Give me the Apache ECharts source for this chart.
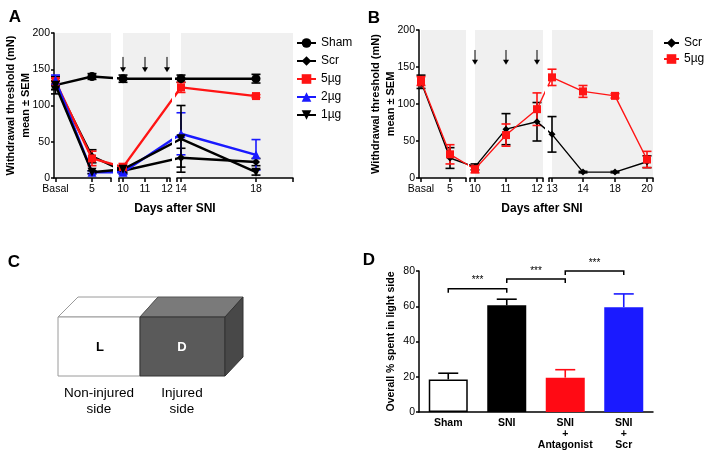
<!DOCTYPE html>
<html><head><meta charset="utf-8">
<script src="https://cdn.jsdelivr.net/npm/echarts@6/dist/echarts.min.js"></script>
<style>html,body{margin:0;padding:0;background:#fff}#c{width:704px;height:457px}</style>
</head><body><div id="c"></div>
<script>
// ================= DATA =================
// Panel A: withdrawal threshold (mN), mean and SEM
const A_DAYS = ['Basal','5','10','14','18'];
const A_SHAM = [128,140,137,137,137];
const A_SHAM_SEM = [12,4,5,5,6];
const A_SCR = [130,30,10,28,22];
const A_SCR_SEM = [8,9,4,13,5];
const A_5UG = [133,27,15,125,113];
const A_5UG_SEM = [5,10,5,7,2];
const A_2UG = [135,8,8,61,32];
const A_2UG_SEM = [7,2,3,29,21];
const A_1UG = [128,8,12,54,8];
const A_1UG_SEM = [6,2,4,46,4];
const A_INJECTIONS = ['10','11','12'];

// Panel B
const B_DAYS = ['Basal','5','10','11','12','13','14','18','20'];
const B_SCR = [130,27,15,66,76,59,8,8,22];
const B_SCR_SEM = [9,14,4,21,26,24,1,1,8];
const B_5UG = [131,32,12,58,93,136,117,111,25];
const B_5UG_SEM = [6,13,5,15,22,11,8,3,11];
const B_INJECTIONS = ['10','11','12'];

// Panel D: overall % time spent in light side
const D_GROUPS = ['Sham','SNI','SNI\n+\nAntagonist','SNI\n+\nScr'];
const D_MEAN = [18.5,60.5,19.5,59.5];
const D_SEM = [3.5,3.5,4.5,7.5];
const D_SIG = [[0,1,70],[1,2,75.5],[2,3,80]];

// Tick labels of the broken x axes and their places along each axis
const A_TICK_LABELS = ['Basal','5','10','11','12','14','18'];
const A_TICK_POS = [1.5,38,69,91,113,127,202];
const A_SEGMENTS = [[0,57],[65,116],[123,239]];
const B_TICK_LABELS = ['Basal','5','10','11','12','13','14','18','20'];
const B_TICK_POS = [2,31,56,87,118,133,164,196,228];
const B_SEGMENTS = [[0,47],[51,124],[130,234]];

// ================= STYLE =================
const FONT = 'Liberation Sans, Arial, Helvetica, sans-serif';
const RED = '#ff1414', BLUE = '#1a1aff', BLACK = '#000';
const D_COLORS = ['#ffffff','#000000','#ff0a14','#1a1aff'];

const PANEL_A = {
  x0:54, top:33, height:145, lw:2.4, elw:1.6, cap:9,
  tickLabels:A_TICK_LABELS, tickPos:A_TICK_POS, segs:A_SEGMENTS, days:A_DAYS,
  arrow:[167,146], injections:A_INJECTIONS,
  series:[
    {name:'Sham', vals:A_SHAM, sem:A_SHAM_SEM, color:BLACK, symbol:'circle', size:9},
    {name:'Scr', vals:A_SCR, sem:A_SCR_SEM, color:BLACK, symbol:'diamond', size:8},
    {name:'5µg', vals:A_5UG, sem:A_5UG_SEM, color:RED, symbol:'rect', size:8},
    {name:'2µg', vals:A_2UG, sem:A_2UG_SEM, color:BLUE, symbol:'triangle', size:9},
    {name:'1µg', vals:A_1UG, sem:A_1UG_SEM, color:BLACK, symbol:'triangle', size:9, rotate:180}
  ]
};
const PANEL_B = {
  x0:419, top:30, height:148, lw:1.4, elw:1.6, cap:9,
  tickLabels:B_TICK_LABELS, tickPos:B_TICK_POS, segs:B_SEGMENTS, days:B_DAYS,
  arrow:[173,153], injections:B_INJECTIONS,
  series:[
    {name:'Scr_B', vals:B_SCR, sem:B_SCR_SEM, color:BLACK, symbol:'diamond', size:7},
    {name:'5µg_B', vals:B_5UG, sem:B_5UG_SEM, color:RED, symbol:'rect', size:8}
  ]
};

const grids=[], xAxes=[], yAxes=[], series=[];
function posOf(P,label){ return P.tickPos[P.tickLabels.indexOf(label)]; }
function labelAt(P,v){ const i=P.tickPos.findIndex(p=>Math.abs(p-v)<0.01); return i>=0?P.tickLabels[i]:''; }

function errRender(color, cap, lw){
  return function(params, api){
    const x=api.value(0), y=api.value(1), e=api.value(2);
    const t=api.coord([x,y+e]), b=api.coord([x,y-e]);
    const st={stroke:color, lineWidth:lw};
    return {type:'group', children:[
      {type:'line', shape:{x1:t[0],y1:t[1],x2:b[0],y2:b[1]}, style:st},
      {type:'line', shape:{x1:t[0]-cap/2,y1:t[1],x2:t[0]+cap/2,y2:t[1]}, style:st},
      {type:'line', shape:{x1:b[0]-cap/2,y1:b[1],x2:b[0]+cap/2,y2:b[1]}, style:st}
    ]};
  };
}

function buildPanel(P){
  P.gridIdx=[];
  P.segs.forEach((seg,si)=>{
    const gi=grids.length; P.gridIdx.push(gi);
    grids.push({left:P.x0+seg[0], top:P.top, width:seg[1]-seg[0], height:P.height, outerBoundsMode:'none', containLabel:false});
    const tickVals=P.tickPos.filter(v=>v>=seg[0]&&v<=seg[1]);
    const marks=tickVals.concat(si>0?[seg[0]]:[]).concat([seg[1]]);
    xAxes.push({type:'value', gridIndex:gi, min:seg[0], max:seg[1],
      axisLine:{show:true,onZero:false,lineStyle:{color:'#000',width:1.5}},
      axisTick:{show:true,length:4,customValues:marks,lineStyle:{color:'#000',width:1.5}},
      axisLabel:{customValues:tickVals, formatter:v=>labelAt(P,v), fontSize:10.5, color:'#000', margin:6, fontFamily:FONT},
      splitLine:{show:false}});
    const y={type:'value', gridIndex:gi, min:0, max:200, interval:50, show:si===0,
      axisLine:{show:true,lineStyle:{color:'#000',width:1.5}},
      axisTick:{show:true,length:3,lineStyle:{color:'#000',width:1.5}},
      axisLabel:{fontSize:10.5,color:'#000',margin:4,fontFamily:FONT},
      splitLine:{show:false}};
    if(si===0){
      y.name='Withdrawal threshold (mN)\nmean ± SEM';
      y.nameLocation='middle'; y.nameRotate=90; y.nameGap=21; y.nameMoveOverlap=false;
      y.nameTextStyle={fontSize:11,fontWeight:'bold',color:'#000',lineHeight:15,fontFamily:FONT};
    }
    yAxes.push(y);
    // shaded band
    const bandStart=tickVals[0];
    series.push({type:'custom', xAxisIndex:gi, yAxisIndex:gi, z:0, silent:true, animation:false, clip:false,
      data:[[bandStart, seg[1]]],
      renderItem:(params,api)=>{
        const a=api.coord([api.value(0),200]), b=api.coord([api.value(1),0]);
        return {type:'rect', shape:{x:a[0],y:a[1],width:b[0]-a[0],height:b[1]-a[1]}, style:{fill:'#f0f0f0'}};
      }});
    // injection arrows
    if(si===1){
      series.push({type:'custom', xAxisIndex:gi, yAxisIndex:gi, z:2, silent:true, animation:false,
        data:P.injections.map(d=>[posOf(P,d)]),
        renderItem:(params,api)=>{
          const x=api.value(0);
          const t=api.coord([x,P.arrow[0]]), b=api.coord([x,P.arrow[1]]);
          return {type:'group', children:[
            {type:'line', shape:{x1:t[0],y1:t[1],x2:b[0],y2:b[1]-3}, style:{stroke:'#000',lineWidth:1}},
            {type:'polygon', shape:{points:[[b[0]-3,b[1]-5],[b[0]+3,b[1]-5],[b[0],b[1]]]}, style:{fill:'#000'}}
          ]};
        }});
    }
  });
  P.series.forEach(S=>{
    P.gridIdx.forEach((gi,si)=>{
      const seg=P.segs[si];
      const pts=P.days.map((d,i)=>[posOf(P,d),S.vals[i],S.sem[i]]);
      series.push({type:'line', name:S.name, xAxisIndex:gi, yAxisIndex:gi, clip:true,
        data:pts.map(p=>[p[0],p[1]]), symbol:S.symbol, symbolSize:S.size, symbolRotate:S.rotate||0,
        showAllSymbol:true, lineStyle:{color:S.color,width:P.lw}, itemStyle:{color:S.color},
        z:4, silent:true, animation:false, emphasis:{disabled:true}});
      series.push({type:'custom', xAxisIndex:gi, yAxisIndex:gi, z:3, silent:true, animation:false,
        data:pts.filter(p=>p[0]>=seg[0]&&p[0]<=seg[1]), renderItem:errRender(S.color,P.cap,P.elw)});
    });
  });
}
buildPanel(PANEL_A);
buildPanel(PANEL_B);

// ---- Panel D ----
const gD=grids.length;
grids.push({left:419, top:271, width:234, height:141, outerBoundsMode:'none', containLabel:false});
xAxes.push({type:'category', gridIndex:gD, data:D_GROUPS,
  axisLine:{show:true,lineStyle:{color:'#000',width:1.5}}, axisTick:{show:false},
  axisLabel:{fontSize:10.5,fontWeight:'bold',color:'#000',margin:6,lineHeight:11,fontFamily:FONT,interval:0}});
yAxes.push({type:'value', gridIndex:gD, min:0, max:80, interval:20,
  axisLine:{show:true,lineStyle:{color:'#000',width:1.5}},
  axisTick:{show:true,length:3,lineStyle:{color:'#000',width:1.5}},
  axisLabel:{fontSize:10.5,color:'#000',margin:4,fontFamily:FONT},
  splitLine:{show:false},
  name:'Overall % spent in light side', nameLocation:'middle', nameRotate:90, nameGap:22, nameMoveOverlap:false,
  nameTextStyle:{fontSize:10.5,fontWeight:'bold',color:'#000',fontFamily:FONT}});
series.push({type:'bar', xAxisIndex:gD, yAxisIndex:gD, barWidth:39, silent:true, animation:false, z:2,
  data:D_MEAN.map((v,i)=>({value:v,itemStyle:{color:D_COLORS[i],borderColor:'#000',borderWidth:i===0?1.5:0}}))});
series.push({type:'custom', xAxisIndex:gD, yAxisIndex:gD, z:1, silent:true, animation:false,
  data:D_MEAN.map((v,i)=>[i,v,D_SEM[i]]),
  renderItem:(params,api)=>{
    const i=api.value(0), v=api.value(1), e=api.value(2);
    const c=D_COLORS[i]==='#ffffff'?'#000':D_COLORS[i];
    const b=api.coord([i,v]), t=api.coord([i,v+e]);
    const st={stroke:c,lineWidth:1.6};
    return {type:'group',children:[
      {type:'line',shape:{x1:b[0],y1:b[1],x2:t[0],y2:t[1]},style:st},
      {type:'line',shape:{x1:t[0]-10,y1:t[1],x2:t[0]+10,y2:t[1]},style:st}
    ]};
  }});
series.push({type:'custom', xAxisIndex:gD, yAxisIndex:gD, z:3, silent:true, animation:false, clip:false,
  data:D_SIG,
  renderItem:(params,api)=>{
    const a=api.coord([api.value(0),api.value(2)]), b=api.coord([api.value(1),api.value(2)]);
    const st={stroke:'#000',lineWidth:1.5,fill:null};
    return {type:'group',children:[
      {type:'polyline',shape:{points:[[a[0],a[1]+4],[a[0],a[1]],[b[0],b[1]],[b[0],b[1]+4]]},style:st},
      {type:'text',style:{text:'***',x:(a[0]+b[0])/2,y:a[1]-3,textAlign:'center',textVerticalAlign:'bottom',fontSize:10,fontFamily:FONT,fill:'#000'}}
    ]};
  }});

// ================= GRAPHIC (labels, panel C drawing) =================
function txt(x,y,text,opt){
  return Object.assign({type:'text',x:x,y:y,silent:true,style:Object.assign({text:text,fill:'#000',font:'12px '+FONT,textAlign:'center',textVerticalAlign:'middle'},opt||{})});
}
const bold = s => 'bold '+s+'px '+FONT;
const graphic=[
  txt(15,17,'A',{font:bold(17)}), txt(374,18,'B',{font:bold(17)}),
  txt(14,262,'C',{font:bold(17)}), txt(369,260,'D',{font:bold(17)}),
  // panel A section labels
  txt(83,43,'SNI',{font:bold(9)}),
  txt(146,41,'i.t.',{font:bold(9)}), txt(146,51,'treatment',{font:bold(9)}),
  txt(240,40,'Post-',{font:bold(9)}), txt(240,51,'treatment',{font:bold(9)}),
  // panel B section labels
  txt(442,43,'SNI',{font:bold(9)}),
  txt(507,35,'i.t.',{font:bold(9)}), txt(507,47,'treatment',{font:bold(9)}),
  txt(606,37,'Post-',{font:bold(9)}), txt(606,47,'treatment',{font:bold(9)}),
  // axis titles
  txt(175,209,'Days after SNI',{font:bold(12)}),
  txt(542,209,'Days after SNI',{font:bold(12)}),
  // significance
  txt(193,97,'***',{font:'10px '+FONT}), txt(266,103,'***',{font:'10px '+FONT}),
  txt(562,69,'**',{font:'10px '+FONT}), txt(596,84,'***',{font:'10px '+FONT}), txt(631,90,'***',{font:'10px '+FONT}),
  // panel C box
  {type:'polygon',silent:true,shape:{points:[[58,317],[78,297],[158,297],[140,317]]},style:{fill:'#fff',stroke:'#9a9a9a',lineWidth:1}},
  {type:'polygon',silent:true,shape:{points:[[140,317],[158,297],[243,297],[225,317]]},style:{fill:'#7a7a7a',stroke:'#555',lineWidth:1}},
  {type:'rect',silent:true,shape:{x:58,y:317,width:82,height:59},style:{fill:'#fff',stroke:'#9a9a9a',lineWidth:1}},
  {type:'rect',silent:true,shape:{x:140,y:317,width:85,height:59},style:{fill:'#5a5a5a',stroke:'#333',lineWidth:1}},
  {type:'polygon',silent:true,shape:{points:[[225,317],[243,297],[243,357],[225,376]]},style:{fill:'#484848',stroke:'#333',lineWidth:1}},
  txt(100,347,'L',{font:bold(13)}), txt(182,347,'D',{font:bold(13),fill:'#fff'}),
  txt(99,393,'Non-injured',{font:'13.5px '+FONT}), txt(99,409,'side',{font:'13.5px '+FONT}),
  txt(182,393,'Injured',{font:'13.5px '+FONT}), txt(182,409,'side',{font:'13.5px '+FONT})
];

const option={
  animation:false,
  backgroundColor:'#fff',
  textStyle:{fontFamily:FONT},
  grid:grids, xAxis:xAxes, yAxis:yAxes, series:series, graphic:graphic,
  legend:[
    {left:291, top:32, orient:'vertical', itemWidth:19, itemHeight:12, itemGap:6, selectedMode:false,
     textStyle:{fontSize:12,color:'#000',fontFamily:FONT}, data:['Sham','Scr','5µg','2µg','1µg']},
    {left:658, top:32, orient:'vertical', itemWidth:15, itemHeight:12, itemGap:4, selectedMode:false,
     textStyle:{fontSize:12,color:'#000',fontFamily:FONT}, data:['Scr_B','5µg_B'], formatter:n=>n.replace('_B','')}
  ]
};
const chart=echarts.init(document.getElementById('c'),null,{renderer:'canvas'});
chart.setOption(option);
</script></body></html>
